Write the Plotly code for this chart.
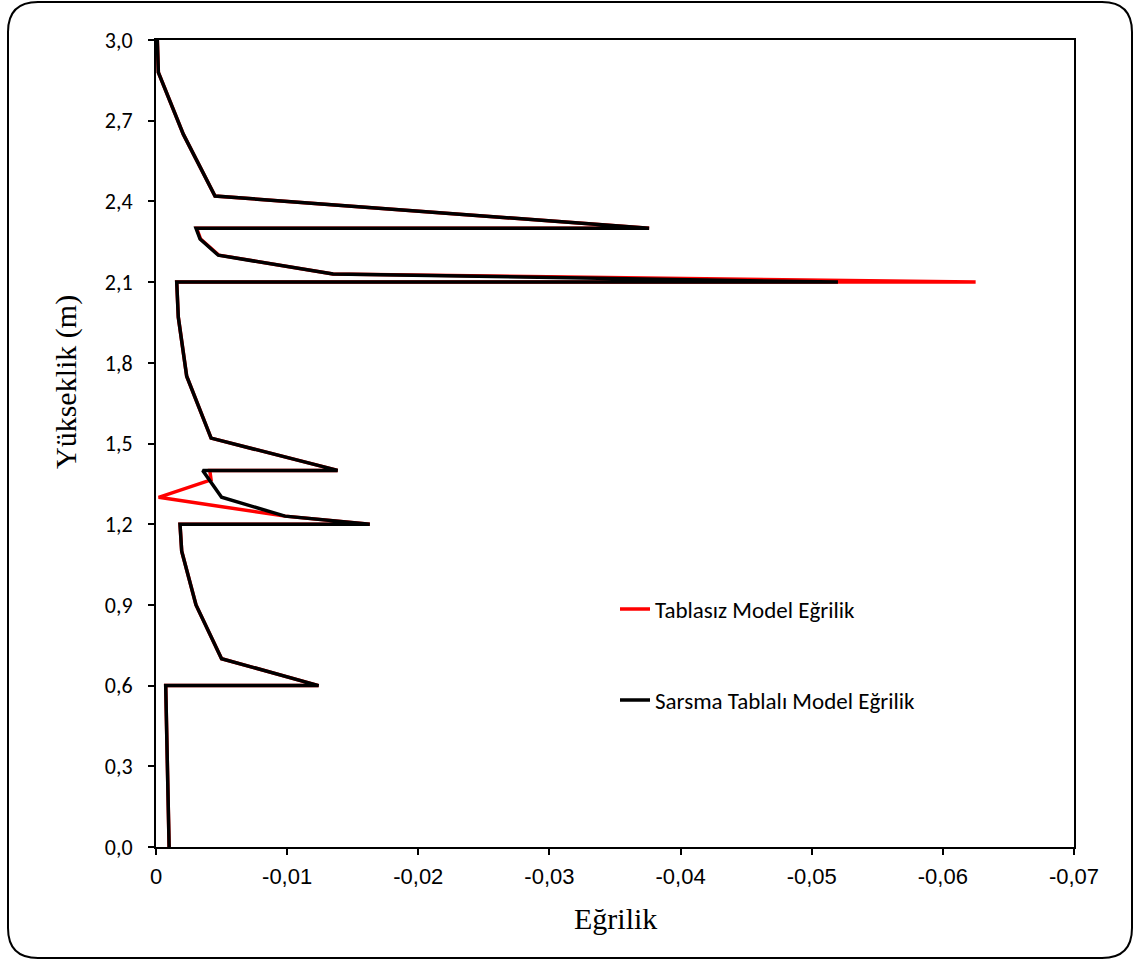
import plotly.graph_objects as go

# ---- data ----
sarsma_x = [-0.0010, -0.00074, -0.0124, -0.0050, -0.00305, -0.00196, -0.00183, -0.0163, -0.00984,
            -0.0050, -0.00356, -0.01385, -0.0042, -0.00234, -0.0017, -0.00158, -0.0520, -0.0135,
            -0.00475, -0.00336, -0.00305, -0.0376, -0.0045, -0.00208, -0.00018, -0.0001]
sarsma_y = [0.0, 0.6, 0.6, 0.7, 0.9, 1.1, 1.2, 1.2, 1.23,
            1.3, 1.4, 1.4, 1.52, 1.75, 1.97, 2.1, 2.1, 2.13,
            2.2, 2.26, 2.3, 2.3, 2.42, 2.65, 2.88, 3.0]

tablasiz_x = [-0.0010, -0.00074, -0.0124, -0.0050, -0.00305, -0.00196, -0.00183, -0.0163, -0.00984,
              -0.0002, -0.0042, -0.0041, -0.01385, -0.0042, -0.00234, -0.0017, -0.00158, -0.0625, -0.0135,
              -0.0048, -0.0034, -0.0031, -0.0376, -0.0045, -0.00208, -0.00018, -0.0001]
tablasiz_y = [0.0, 0.6, 0.6, 0.7, 0.9, 1.1, 1.2, 1.2, 1.23,
              1.3, 1.365, 1.4, 1.4, 1.52, 1.75, 1.97, 2.1, 2.1, 2.13,
              2.2, 2.26, 2.3, 2.3, 2.42, 2.65, 2.88, 3.0]

x_tickvals = [0, -0.01, -0.02, -0.03, -0.04, -0.05, -0.06, -0.07]
x_ticktext = ["0", "-0,01", "-0,02", "-0,03", "-0,04", "-0,05", "-0,06", "-0,07"]
y_tickvals = [0.0, 0.3, 0.6, 0.9, 1.2, 1.5, 1.8, 2.1, 2.4, 2.7, 3.0]
y_ticktext = ["0,0", "0,3", "0,6", "0,9", "1,2", "1,5", "1,8", "2,1", "2,4", "2,7", "3,0"]

W, H = 1138, 960
L, R, T, B = 156, 1074, 40, 847

fig = go.Figure()
fig.add_trace(go.Scatter(x=tablasiz_x, y=tablasiz_y, mode="lines",
                         line=dict(color="#FF0000", width=3.5),
                         name="Tablasız Model Eğrilik", legend="legend"))
fig.add_trace(go.Scatter(x=sarsma_x, y=sarsma_y, mode="lines",
                         line=dict(color="#000000", width=3.5),
                         name="Sarsma Tablalı Model Eğrilik", legend="legend2"))

def px2paper(px, py):
    return (px - L) / (R - L), (B - py) / (B - T)

# rounded outer frame
x0, y0, x1, y1, r = 8, 2, 1132, 958, 30
def P(px, py):
    a, b = px2paper(px, py)
    return f"{a:.5f},{b:.5f}"
path = (f"M{P(x0+r, y0)} L{P(x1-r, y0)} Q{P(x1, y0)} {P(x1, y0+r)} "
        f"L{P(x1, y1-r)} Q{P(x1, y1)} {P(x1-r, y1)} "
        f"L{P(x0+r, y1)} Q{P(x0, y1)} {P(x0, y1-r)} "
        f"L{P(x0, y0+r)} Q{P(x0, y0)} {P(x0+r, y0)} Z")
fig.add_shape(type="path", path=path, xref="paper", yref="paper",
              line=dict(color="black", width=2), layer="below")

lg_font = dict(family="Carlito, Lato, sans-serif", size=23, color="black")
lx, ly1 = px2paper(615, 609)
_, ly2 = px2paper(615, 700)

fig.update_layout(
    width=W, height=H,
    margin=dict(l=L, r=W - R, t=T, b=H - B, pad=0),
    plot_bgcolor="white", paper_bgcolor="white",
    separators=", ",
    showlegend=True,
    legend=dict(x=lx, y=ly1, xanchor="left", yanchor="middle", font=lg_font,
                bgcolor="rgba(0,0,0,0)", borderwidth=0),
    legend2=dict(x=lx, y=ly2, xanchor="left", yanchor="middle", font=lg_font,
                 bgcolor="rgba(0,0,0,0)", borderwidth=0),
    xaxis=dict(range=[0, -0.07], tickvals=x_tickvals, ticktext=x_ticktext,
               showgrid=False, zeroline=False, showline=True, linecolor="black",
               linewidth=2, mirror=True, ticks="outside", ticklen=6, tickwidth=2,
               tickcolor="black",
               tickfont=dict(family="Liberation Sans, Arial", size=22, color="black"),
               ticklabelstandoff=3),
    yaxis=dict(range=[0, 3.0], tickvals=y_tickvals, ticktext=y_ticktext,
               showgrid=False, zeroline=False, showline=True, linecolor="black",
               linewidth=2, mirror=True, ticks="outside", ticklen=6, tickwidth=2,
               tickcolor="black",
               tickfont=dict(family="Carlito, Lato, sans-serif", size=22, color="black"),
               ticklabelstandoff=11),
)

ax, ay = px2paper(615, 918)
fig.add_annotation(text="Eğrilik", xref="paper", yref="paper", x=ax, y=ay,
                   showarrow=False, xanchor="center", yanchor="middle",
                   font=dict(family="Liberation Serif, Times New Roman", size=30, color="black"))
tx, ty = px2paper(66, 382)
fig.add_annotation(text="Yükseklik (m)", xref="paper", yref="paper", x=tx, y=ty,
                   showarrow=False, textangle=-90, xanchor="center", yanchor="middle",
                   font=dict(family="Liberation Serif, Times New Roman", size=30, color="black"))

fig.write_html("out.html")
